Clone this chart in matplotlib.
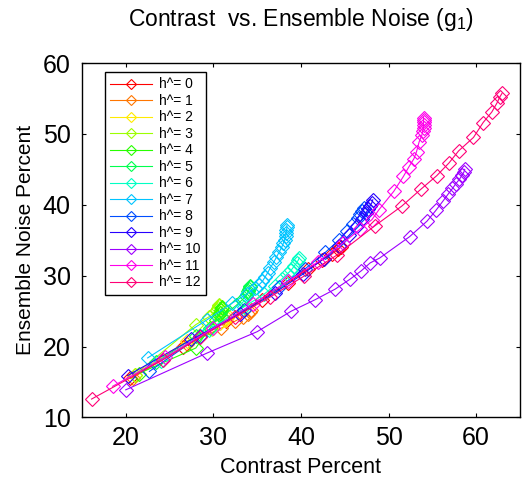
import colorsys
import matplotlib
matplotlib.use("Agg")
import matplotlib.pyplot as plt

plt.rcParams['font.family'] = ['Liberation Sans', 'DejaVu Sans']
plt.rcParams['mathtext.fontset'] = 'custom'
plt.rcParams['mathtext.rm'] = 'Liberation Sans'
plt.rcParams['mathtext.it'] = 'Liberation Sans'

# Contrast (%) and ensemble noise (%) for each h^ value
x0 = [20.5, 26.5, 31.5, 35.5, 38.5, 40.8, 42.4, 43.5, 44.2, 44.6]
y0 = [15.5, 19.9, 23.6, 26.6, 29.0, 30.9, 32.2, 33.1, 33.7, 34.1]
x1 = [20.8, 27.0, 30.9, 32.5, 33.4, 33.9, 34.2, 34.3]
y1 = [15.6, 20.3, 22.6, 23.6, 24.2, 24.6, 24.9, 25.1]
x2 = [21.0, 27.0, 29.8, 30.8, 31.3, 31.6, 31.7]
y2 = [16.0, 20.8, 22.5, 23.3, 23.8, 24.1, 24.3]
x3 = [21.0, 28.0, 29.5, 30.1, 30.4, 30.5, 30.6, 30.6]
y3 = [16.0, 23.1, 24.2, 24.8, 25.2, 25.5, 25.7, 25.9]
x4 = [21.5, 28.0, 29.6, 30.3, 30.6, 30.8, 30.9, 31.0, 31.0]
y4 = [16.2, 19.8, 22.6, 23.8, 24.4, 24.8, 25.1, 25.4, 25.6]
x5 = [23.5, 28.0, 31.0, 32.6, 33.3, 33.7, 33.9, 34.0, 34.1, 34.2, 34.2]
y5 = [17.8, 21.5, 24.2, 25.8, 26.6, 27.1, 27.5, 27.8, 28.1, 28.4, 28.6]
x6 = [24.0, 29.5, 33.5, 35.8, 37.0, 37.8, 38.4, 38.9, 39.2, 39.5, 39.7, 39.8]
y6 = [18.0, 22.4, 25.6, 27.4, 28.6, 29.5, 30.2, 30.8, 31.3, 31.8, 32.2, 32.5]
x7 = [22.5, 29.3, 32.1, 33.8, 34.8, 35.2, 35.6, 35.9, 36.2, 36.5, 36.9, 37.2,
      37.5, 37.8, 38.0, 38.15, 38.25, 38.3, 38.35, 38.4, 38.4]
y7 = [18.4, 23.8, 26.1, 27.4, 28.3, 28.7, 29.2, 29.8, 30.4, 31.1, 31.9, 32.6,
      33.3, 34.0, 34.6, 35.1, 35.6, 36.0, 36.4, 36.8, 37.1]
x8 = [22.7, 28.5, 33.5, 37.5, 40.5, 42.8, 44.3, 45.3, 46.0, 46.5, 46.8, 47.0, 47.2]
y8 = [16.5, 21.5, 25.2, 28.4, 31.0, 33.3, 35.0, 36.3, 37.3, 38.1, 38.7, 39.1, 39.5]
x9 = [20.2, 27.5, 33.0, 37.0, 40.2, 42.6, 44.3, 45.5, 46.4, 47.0, 47.4, 47.7, 47.9, 48.1, 48.2]
y9 = [15.9, 21.0, 24.6, 27.6, 30.2, 32.4, 34.2, 35.7, 37.0, 38.0, 38.8, 39.4, 39.9, 40.3, 40.7]
x10 = [20.0, 29.3, 35.0, 38.9, 41.6, 43.9, 45.6, 46.9, 47.9, 49.0, 52.4, 54.4, 55.4,
       56.2, 56.8, 57.3, 57.7, 58.1, 58.4, 58.6, 58.7]
y10 = [13.9, 19.1, 22.1, 25.0, 26.6, 28.1, 29.5, 30.7, 31.8, 32.5, 35.5, 37.7, 39.2,
       40.5, 41.5, 42.3, 43.0, 43.6, 44.2, 44.6, 45.0]
x11 = [18.5, 24.5, 30.0, 34.5, 38.5, 42.0, 44.8, 46.8, 48.1, 48.9, 50.6, 51.7, 52.3,
       52.9, 53.2, 53.5, 53.8, 53.9, 54.0, 54.0, 54.0, 54.0, 54.0]
y11 = [14.4, 18.5, 22.6, 26.0, 29.2, 32.0, 34.6, 36.6, 37.9, 39.3, 41.9, 44.0, 45.3,
       46.5, 47.5, 48.9, 49.8, 50.4, 50.9, 51.3, 51.7, 52.0, 52.3]
x12 = [16.1, 24.2, 28.5, 32.5, 36.5, 40.3, 44.1, 48.4, 51.5, 53.7, 55.5, 56.9, 58.0,
       59.7, 60.8, 61.8, 62.4, 62.7, 62.95]
y12 = [12.6, 18.1, 21.3, 24.2, 27.0, 29.9, 32.9, 37.0, 39.8, 42.2, 44.1, 45.9, 47.6,
       49.5, 51.6, 53.1, 54.4, 55.2, 55.7]

xs = [x0, x1, x2, x3, x4, x5, x6, x7, x8, x9, x10, x11, x12]
ys = [y0, y1, y2, y3, y4, y5, y6, y7, y8, y9, y10, y11, y12]
h_values = list(range(13))

x_ticks = [20, 30, 40, 50, 60]
y_ticks = [10, 20, 30, 40, 50, 60]

fig = plt.figure(figsize=(5.22, 4.78), dpi=100)
ax = fig.add_axes([0.157, 0.1266, 0.839, 0.7416])

n = len(h_values)
for i, (h, xv, yv) in enumerate(zip(h_values, xs, ys)):
    color = colorsys.hsv_to_rgb(i / n, 1.0, 1.0)
    ax.plot(xv, yv, '-', color=color, lw=0.8, marker='D', ms=6.8,
            mfc='none', mec=color, mew=0.8, label='h^= %d' % h)

ax.set_xlim(15, 65)
ax.set_ylim(10, 60)
ax.set_xticks(x_ticks)
ax.set_yticks(y_ticks)
ax.tick_params(direction='in', length=3, width=0.8, top=True, right=True,
               labelsize=18, pad=8)
ax.tick_params(axis='x', pad=6)
for s in ax.spines.values():
    s.set_linewidth(1.0)

ax.set_xlabel('Contrast Percent', fontsize=15.5, labelpad=5)
ax.set_ylabel('Ensemble Noise Percent', fontsize=15, labelpad=6)
ax.set_title('Contrast  vs. Ensemble Noise (g$_1$)', fontsize=16.5, pad=27)

leg = ax.legend(loc='upper left', bbox_to_anchor=(0.052, 0.975), borderaxespad=0,
                fontsize=10, handlelength=3.0, labelspacing=0.18, handletextpad=0.5,
                borderpad=0.4, fancybox=False, framealpha=1, edgecolor='black',
                markerscale=0.75)
leg.get_frame().set_linewidth(1.0)

fig.savefig('out.png', dpi=100)
